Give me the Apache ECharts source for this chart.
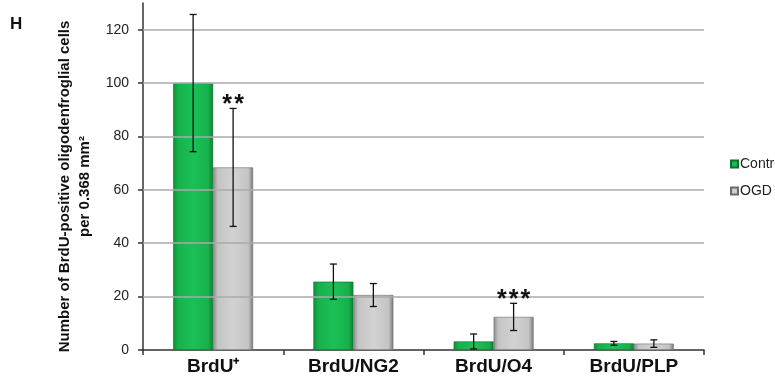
<!DOCTYPE html>
<html><head><meta charset="utf-8">
<script src="https://cdn.jsdelivr.net/npm/echarts@6/dist/echarts.min.js"></script>
<style>html,body{margin:0;padding:0;background:#fff}#c{width:775px;height:386px}</style>
</head><body><div id="c"></div>
<script>
const categories = ['BrdU\u207A', 'BrdU/NG2', 'BrdU/O4', 'BrdU/PLP'];
const seriesNames = ['Control', 'OGD'];
const controlValues = [100, 25.6, 3.2, 2.5];
const controlErrors = [25.7, 6.6, 2.8, 0.7];
const ogdValues = [68.4, 20.6, 12.4, 2.4];
const ogdErrors = [22.1, 4.3, 5.1, 1.4];
const sigLabels = ['**', '', '***', ''];
const yTicks = [0, 20, 40, 60, 80, 100, 120];

const FONT = '"Liberation Sans", Arial, sans-serif';
const chart = echarts.init(document.getElementById('c'), null, {renderer: 'canvas'});

const greenGrad = new echarts.graphic.LinearGradient(0, 0, 1, 0, [
  {offset: 0, color: '#0e8f3a'}, {offset: 0.12, color: '#16b14b'},
  {offset: 0.5, color: '#1cc057'}, {offset: 0.88, color: '#16b14b'}, {offset: 1, color: '#0c7d33'}]);
const grayGrad = new echarts.graphic.LinearGradient(0, 0, 1, 0, [
  {offset: 0, color: '#8c8c8c'}, {offset: 0.12, color: '#c4c4c4'},
  {offset: 0.5, color: '#d2d2d2'}, {offset: 0.88, color: '#c4c4c4'}, {offset: 1, color: '#7a7a7a'}]);

const barCatGap = 0.43;
function errSeries(vals, errs, sign, labels) {
  return {
    type: 'custom', silent: true, z: 10,
    data: vals.map((v, i) => [i, v, errs[i]]),
    renderItem: function (params, api) {
      const i = api.value(0), v = api.value(1), e = api.value(2);
      const catW = api.size([1, 0])[0];
      const off = sign * catW * (1 - barCatGap) / 4;
      const top = api.coord([i, v + e]);
      const bot = api.coord([i, v - e]);
      const x = top[0] + off;
      const cap = 3.5;
      const st = {stroke: '#111', lineWidth: 1.3};
      const children = [
        {type: 'line', shape: {x1: x, y1: top[1], x2: x, y2: bot[1]}, style: st},
        {type: 'line', shape: {x1: x - cap, y1: top[1], x2: x + cap, y2: top[1]}, style: st},
        {type: 'line', shape: {x1: x - cap, y1: bot[1], x2: x + cap, y2: bot[1]}, style: st}
      ];
      const lab = labels ? labels[i] : '';
      if (lab) {
        children.push({type: 'text', style: {text: lab.split('').join('\u200A'), x: x, y: top[1] - 3,
          align: 'center', verticalAlign: 'middle', font: 'bold 25px ' + FONT, fill: '#111'}});
      }
      return {type: 'group', children: children};
    }
  };
}

chart.setOption({
  animation: false,
  graphic: [{type: 'text', left: 10, top: 16, style: {text: 'H', font: 'bold 17px ' + FONT, fill: '#111'}}],
  legend: {
    left: 730, top: 157, padding: 0, orient: 'vertical', itemWidth: 7, itemHeight: 7, itemGap: 13,
    icon: 'rect', textStyle: {fontSize: 14, color: '#222', fontFamily: FONT, padding: [0, 0, 0, -3]},
    data: seriesNames
  },
  grid: {left: 143, right: 71, top: 3, bottom: 36, containLabel: false, outerBoundsMode: 'none'},
  xAxis: {
    type: 'category', data: categories,
    axisLine: {lineStyle: {color: '#333', width: 1.5}},
    axisTick: {show: true, length: 5, lineStyle: {color: '#333', width: 1.5}},
    axisLabel: {fontSize: 19, fontWeight: 'bold', color: '#111', fontFamily: FONT, margin: 7}
  },
  yAxis: {
    type: 'value', min: 0, max: 130,
    name: 'Number of BrdU-positive oligodenfroglial cells\nper 0.368 mm\u00B2',
    nameLocation: 'middle', nameGap: 46, nameRotate: 90,
    nameTextStyle: {fontSize: 15, fontWeight: 'bold', color: '#111', fontFamily: FONT, lineHeight: 20,
      padding: [0, 20, 0, 0]},
    axisLine: {show: true, lineStyle: {color: '#333', width: 1.5}},
    axisTick: {show: true, length: 5, customValues: yTicks, lineStyle: {color: '#333', width: 1.5}},
    axisLabel: {customValues: yTicks, fontSize: 14, color: '#222', fontFamily: FONT, margin: 14},
    splitLine: {show: false}
  },
  series: [
    {
      name: seriesNames[0], type: 'bar', data: controlValues, barGap: '0%', barCategoryGap: '43%',
      itemStyle: {color: greenGrad, borderColor: '#0b6e2c', borderWidth: 0.6},
      markLine: {
        silent: true, symbol: 'none', label: {show: false}, animation: false,
        lineStyle: {color: '#aaaaaa', width: 1.5, type: 'solid'},
        data: yTicks.filter(t => t > 0).map(t => ({yAxis: t}))
      },
      z: 3
    },
    {
      name: seriesNames[1], type: 'bar', data: ogdValues, barGap: '0%', barCategoryGap: '43%',
      itemStyle: {color: grayGrad, borderColor: '#6a6a6a', borderWidth: 0.6},
      z: 3
    },
    errSeries(controlValues, controlErrors, -1, null),
    errSeries(ogdValues, ogdErrors, 1, sigLabels)
  ]
});
</script></body></html>
